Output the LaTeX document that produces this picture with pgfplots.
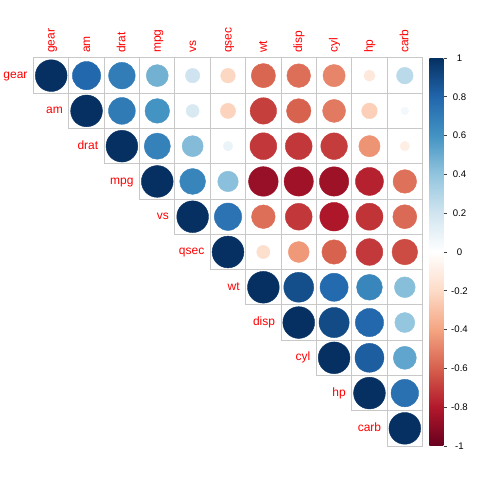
\documentclass[border=0pt]{standalone}
\usepackage{pgfplots}
\pgfplotsset{compat=1.18}
\usepackage{pgfplotstable}
\usepackage{fontspec}
\setmainfont{Liberation Sans}
\newcommand{\labfont}{\fontsize{12bp}{14bp}\selectfont}
\newcommand{\cbfont}{\fontsize{9.6bp}{11bp}\selectfont}
\definecolor{gridgray}{HTML}{C8C8C8}

% x = column, y = 12 - row, r = correlation
\pgfplotstableread{
x y r
1 11 1
2 11 0.794
3 11 0.700
4 11 0.480
5 11 0.206
6 11 -0.213
7 11 -0.583
8 11 -0.556
9 11 -0.493
10 11 -0.126
11 11 0.274
2 10 1
3 10 0.713
4 10 0.600
5 10 0.168
6 10 -0.230
7 10 -0.692
8 10 -0.591
9 10 -0.523
10 10 -0.243
11 10 0.058
3 9 1
4 9 0.681
5 9 0.440
6 9 0.091
7 9 -0.712
8 9 -0.710
9 9 -0.700
10 9 -0.449
11 9 -0.091
4 8 1
5 8 0.664
6 8 0.419
7 8 -0.868
8 8 -0.848
9 8 -0.852
10 8 -0.776
11 8 -0.551
5 7 1
6 7 0.745
7 7 -0.555
8 7 -0.710
9 7 -0.811
10 7 -0.723
11 7 -0.570
6 6 1
7 6 -0.175
8 6 -0.434
9 6 -0.591
10 6 -0.708
11 6 -0.656
7 5 1
8 5 0.888
9 5 0.782
10 5 0.659
11 5 0.428
8 4 1
9 4 0.902
10 4 0.791
11 4 0.395
9 3 1
10 3 0.832
11 3 0.527
10 2 1
11 2 0.750
11 1 1
}\corrtab

\pgfplotstableread{
x y lab
1 11 gear
2 10 am
3 9 drat
4 8 mpg
5 7 vs
6 6 qsec
7 5 wt
8 4 disp
9 3 cyl
10 2 hp
11 1 carb
}\rowlabs

\begin{document}
\begin{tikzpicture}
\useasboundingbox (0,0) rectangle (480bp,480bp);
\begin{axis}[
  at={(33.5bp,34bp)}, anchor=south west,
  scale only axis, width=389bp, height=388bp,
  xmin=0.5, xmax=11.5, ymin=0.5, ymax=11.5,
  axis line style={draw=none},
  xtick={1,...,11},
  xticklabels={gear,am,drat,mpg,vs,qsec,wt,disp,cyl,hp,carb},
  xticklabel pos=top,
  ytick=\empty,
  major tick length=0pt,
  xtick style={draw=none},
  xticklabel style={rotate=90, anchor=base west, xshift=5bp, yshift=-3.5bp, text=red, font=\labfont, inner sep=0pt},
  clip=false,
  colormap={rdbu}{HTML=(67001F) HTML=(B2182B) HTML=(D6604D) HTML=(F4A582) HTML=(FDDBC7) HTML=(FFFFFF) HTML=(D1E5F0) HTML=(92C5DE) HTML=(4393C3) HTML=(2166AC) HTML=(053061)},
  point meta min=-1, point meta max=1,
  colorbar,
  colorbar shift/.style={xshift=6.8bp},
  colorbar style={
    at={(parent axis.north east)}, anchor=north west,
    scale only axis,
    width=14.7bp, height=388bp,
    axis line style={draw=none},
    ytick={-1,-0.8,-0.6,-0.4,-0.2,0,0.2,0.4,0.6,0.8,1},
    yticklabels={-1,-0.8,-0.6,-0.4,-0.2,0,0.2,0.4,0.6,0.8,1},
    yticklabel pos=right,
    ytick pos=right,
    tick align=outside,
    major tick length=2.5bp,
    ytick style={draw=black!75, line width=0.6bp},
    yticklabel style={font=\cbfont, anchor=center, xshift=13bp, text=black},
  },
]
% grid cells
\addplot[only marks, mark=square, mark size=17.68bp,
  mark options={draw=gridgray, line width=1bp, fill=none}]
  table[x=x, y=y] {\corrtab};
% circles
\addplot[scatter, only marks, mark=*,
  point meta=\thisrow{r},
  scatter/use mapped color={draw=mapped color, fill=mapped color},
  visualization depends on={0.45*35.3*sqrt(abs(\thisrow{r})) \as \rad},
  scatter/@pre marker code/.append style={/tikz/mark size=\rad bp}]
  table[x=x, y=y] {\corrtab};
% row labels
\addplot[only marks, mark=none, point meta=explicit symbolic,
  nodes near coords,
  nodes near coords style={anchor=base east, xshift=-23.5bp, yshift=-3bp, text=red, font=\labfont, inner sep=0pt}]
  table[x=x, y=y, meta=lab] {\rowlabs};
\end{axis}
\end{tikzpicture}
\end{document}
